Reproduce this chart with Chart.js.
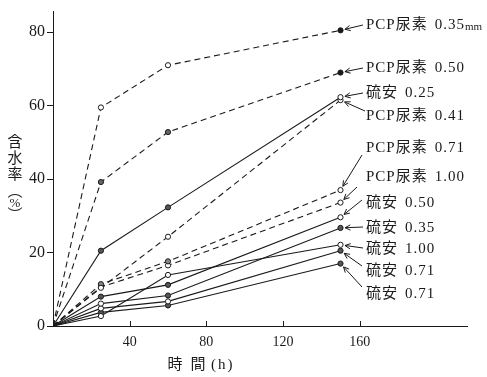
<!DOCTYPE html>
<html>
<head>
<meta charset="utf-8">
<script src="https://cdn.jsdelivr.net/npm/chart.js@4/dist/chart.umd.min.js"></script>
<style>
  html, body { margin: 0; padding: 0; background: #fff; }
  #wrap { width: 487px; height: 377px; }
</style>
</head>
<body>
<div id="wrap"><canvas id="chart" width="487" height="377"></canvas></div>
<script>
// time of measurement (h)
const hours = [0, 25, 60, 150];

// series names as printed at the right end of each line
const seriesNames = [
    'PCP尿素 0.35', 'PCP尿素 0.50', '硫安 0.25', 'PCP尿素 0.41',
    'PCP尿素 0.71', 'PCP尿素 1.00', '硫安 0.50', '硫安 0.35',
    '硫安 1.00', '硫安 0.71', '硫安 0.71'
];

// moisture content (%) at each time
const pcp035 = [0, 59.5, 71.0, 80.5];
const pcp050 = [0, 39.2, 52.8, 69.0];
const ryu025 = [0, 20.5, 32.3, 62.3];
const pcp041 = [0, 10.4, 24.3, 61.5];
const pcp071 = [0, 11.4, 17.6, 37.0];
const pcp100 = [0, 10.6, 16.5, 33.6];
const ryu050 = [0, 8.0, 11.2, 29.6];
const ryu035 = [0, 6.1, 8.3, 26.7];
const ryu100 = [0, 2.7, 13.9, 22.1];
const ryu071a = [0, 4.8, 6.7, 20.5];
const ryu071b = [0, 3.7, 5.6, 17.0];

const seriesValues = [pcp035, pcp050, ryu025, pcp041, pcp071, pcp100,
    ryu050, ryu035, ryu100, ryu071a, ryu071b];

// x tick labels shown on the axis
const xTickLabels = [40, 80, 120, 160];

const INK = '#1a1a1a';
const FONT = '"Liberation Serif", "Noto Sans CJK JP", serif';

// where each right-hand label sits and where its arrow starts (pixels)
const labelY = [25, 68, 93, 116, 148, 177, 203, 228, 249, 271, 294];
const arrowFrom = [
    [363, 25], [363, 68], [363, 93], [365, 111], [362, 155], [357, 187],
    [362, 200], [363, 227], [363, 248], [362, 266], [362, 287]
];

const fills = [
    ['#fff', '#fff', '#fff', INK],
    ['#666', '#666', '#666', INK],
    ['#555', '#555', '#555', '#fff'],
    ['#fff', '#fff', '#fff', '#fff'],
    ['#888', '#888', '#888', '#fff'],
    ['#fff', '#fff', '#fff', '#fff'],
    ['#555', '#555', '#555', '#fff'],
    ['#fff', '#fff', '#555', '#555'],
    ['#fff', '#fff', '#fff', '#fff'],
    ['#fff', '#fff', '#fff', '#555'],
    ['#555', '#555', '#555', '#555']
];

const datasets = seriesValues.map((vals, i) => ({
    label: seriesNames[i],
    data: vals.map((v, j) => ({ x: hours[j], y: v })),
    borderColor: INK,
    borderWidth: 1.1,
    borderDash: seriesNames[i].startsWith('PCP') ? [6, 4] : [],
    pointRadius: [0, 2.6, 2.6, 2.6],
    pointBorderWidth: 1,
    pointBorderColor: INK,
    pointBackgroundColor: fills[i],
    tension: 0,
    fill: false
}));

// labels, arrows, axis titles and inward x ticks
const annotate = {
    id: 'annotate',
    afterDraw(chart) {
        const ctx = chart.ctx;
        const xs = chart.scales.x, ys = chart.scales.y;
        const area = chart.chartArea;
        ctx.save();
        ctx.strokeStyle = INK;
        ctx.fillStyle = INK;
        ctx.lineWidth = 1;

        // inward tick marks on the x axis
        xTickLabels.forEach(t => {
            const px = Math.round(xs.getPixelForValue(t)) + 0.5;
            ctx.beginPath();
            ctx.moveTo(px, area.bottom);
            ctx.lineTo(px, area.bottom - 5);
            ctx.stroke();
        });

        // series labels with arrows
        ctx.textBaseline = 'middle';
        ctx.textAlign = 'left';
        seriesNames.forEach((name, i) => {
            const [head, num] = name.split(' ');
            ctx.font = '15px ' + FONT;
            ctx.letterSpacing = '1px';
            ctx.fillText(head, 366, labelY[i]);
            const hw = ctx.measureText(head).width;
            ctx.fillText(num, 366 + hw + 7, labelY[i]);
            if (i === 0) {
                const w = ctx.measureText(num).width;
                ctx.font = '11px ' + FONT;
                ctx.letterSpacing = '0px';
                ctx.fillText('mm', 366 + hw + 7 + w, labelY[i] + 2);
            }
            ctx.letterSpacing = '0px';
            const last = seriesValues[i].length - 1;
            const tx = xs.getPixelForValue(hours[last]);
            const ty = ys.getPixelForValue(seriesValues[i][last]);
            const [sx, sy] = arrowFrom[i];
            const ang = Math.atan2(sy - ty, sx - tx);
            const hx = tx + Math.cos(ang) * 4.5, hy = ty + Math.sin(ang) * 4.5;
            ctx.beginPath();
            ctx.moveTo(sx, sy);
            ctx.lineTo(hx, hy);
            ctx.moveTo(hx + Math.cos(ang + 0.45) * 6, hy + Math.sin(ang + 0.45) * 6);
            ctx.lineTo(hx, hy);
            ctx.lineTo(hx + Math.cos(ang - 0.45) * 6, hy + Math.sin(ang - 0.45) * 6);
            ctx.stroke();
        });

        // y axis title, vertical
        ctx.textAlign = 'center';
        ctx.font = '15px ' + FONT;
        ['含', '水', '率'].forEach((c, k) => ctx.fillText(c, 15, 143 + k * 16));
        ctx.fillText('︵', 15, 192);
        ctx.font = '13px ' + FONT;
        ctx.fillText('%', 15, 204);
        ctx.font = '15px ' + FONT;
        ctx.fillText('︶', 15, 216);

        // x axis title
        ctx.fillText('時', 175, 365);
        ctx.fillText('間', 198, 365);
        ctx.textAlign = 'left';
        ctx.letterSpacing = '2px';
        ctx.fillText('(h)', 211, 365);
        ctx.restore();
    }
};

new Chart(document.getElementById('chart'), {
    type: 'line',
    data: { datasets: datasets },
    options: {
        responsive: false,
        animation: false,
        devicePixelRatio: 1,
        layout: { padding: { left: 0, right: 20, top: 5, bottom: 0 } },
        plugins: {
            legend: { display: false },
            tooltip: { enabled: false }
        },
        scales: {
            x: {
                type: 'linear',
                min: 0,
                max: 216,
                afterFit: s => { s.height = 51; },
                border: { display: true, color: INK, width: 1 },
                grid: { display: true, drawOnChartArea: false, drawTicks: false },
                ticks: {
                    stepSize: 40,
                    includeBounds: false,
                    padding: 8,
                    color: INK,
                    font: { family: FONT, size: 14 },
                    maxRotation: 0,
                    callback: v => xTickLabels.includes(v) ? String(v) : ''
                }
            },
            y: {
                type: 'linear',
                min: 0,
                max: 85.6,
                afterFit: s => { s.width = 53; },
                border: { display: true, color: INK, width: 1 },
                grid: { display: true, drawOnChartArea: false, drawTicks: true, tickLength: 6, color: INK },
                ticks: {
                    stepSize: 20,
                    includeBounds: false,
                    padding: 2,
                    color: INK,
                    font: { family: FONT, size: 16 }
                }
            }
        }
    },
    plugins: [annotate]
});
</script>
</body>
</html>
